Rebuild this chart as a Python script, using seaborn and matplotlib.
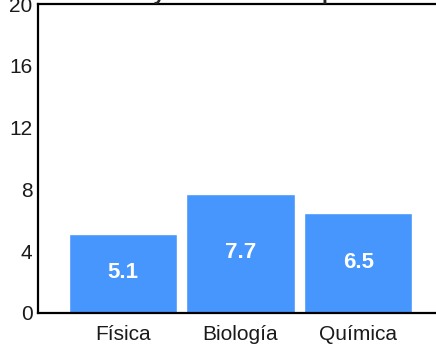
import pandas as pd
import matplotlib.pyplot as plt
import seaborn as sns

# datos del grafico
materias = ['Física', 'Biología', 'Química']
notas = [5.1, 7.7, 6.5]
y_ticks = [0, 4, 8, 12, 16, 20]

df = pd.DataFrame({'Materia': materias, 'Nota': notas})

sns.set_style('white')
plt.rcParams['font.family'] = ['Liberation Sans', 'DejaVu Sans']

fig = plt.figure(figsize=(4.36, 3.46), dpi=100)
ax = fig.add_axes([38 / 436, 33 / 346, 405 / 436, 309 / 346])

sns.barplot(data=df, x='Materia', y='Nota', color='#4696FD', saturation=1,
            width=0.92, ax=ax)

for i, v in enumerate(notas):
    ax.text(i, v / 2 + 0.05, f'{v}', ha='center', va='center',
            color='white', fontsize=16, fontweight='bold')

ax.set_xlim(-0.72, 2.72)
ax.set_ylim(0, 20)
ax.set_yticks(y_ticks)
ax.set_xlabel('')
ax.set_ylabel('')
ax.tick_params(axis='both', length=0, labelsize=15, colors='#1a1a1a')
ax.tick_params(axis='x', pad=9)
ax.tick_params(axis='y', pad=4)
for s in ax.spines.values():
    s.set_color('black')
    s.set_linewidth(1.6)

# titulo que queda cortado arriba
fig.text(0.55, 1 - 0.5 / 346, 'Promedio y notas de los especialistas',
         ha='center', va='baseline', fontsize=15, fontweight='bold')

fig.savefig('out.png', dpi=100)
